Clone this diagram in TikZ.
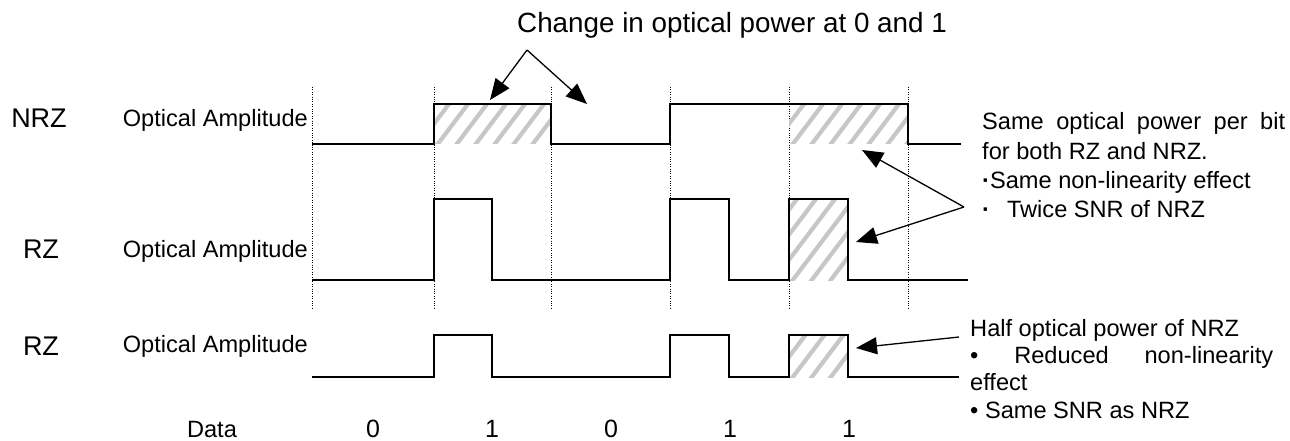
\documentclass[tikz,border=0pt]{standalone}
\usepackage{fontspec}
\setmainfont{Liberation Sans}
\usetikzlibrary{arrows.meta}
\tikzset{
  wave/.style={line width=1.7pt, line join=miter},
  gridline/.style={line width=0.9pt, dash pattern=on 1pt off 1.4pt},
  hatchline/.style={line width=4.2pt, draw=black!22},
  txt/.style={inner sep=0pt, font=\fontsize{23.6}{28}\selectfont},
  biglabel/.style={inner sep=0pt, font=\fontsize{27}{32}\selectfont},
  titletxt/.style={inner sep=0pt, font=\fontsize{27.8}{32}\selectfont},
  digit/.style={inner sep=0pt, font=\fontsize{25}{30}\selectfont},
  callout/.style={line width=1.3pt, -{Triangle[length=21pt,width=17pt]}},
}
\newcommand{\hatchrect}[4]{%
  \begin{scope}
    \clip (#1,#2) rectangle (#3,#4);
    \foreach \k in {-7,...,8} {\draw[hatchline] ({#1+\k*19},{#4+5}) -- ++(68,-90);}
  \end{scope}}
\begin{document}
\begin{tikzpicture}[x=1pt,y=-1pt]
\useasboundingbox (0,0) rectangle (1290,441);
% dotted bit boundaries
\foreach \x in {312,434,551,670,789,908} \draw[gridline] (\x,87) -- (\x,308);
% hatched areas
\hatchrect{434}{104}{551}{144}
\hatchrect{789}{104}{908}{144}
\hatchrect{789}{199}{848}{280}
\hatchrect{789}{335}{848}{377}
% waveforms
\draw[wave] (312,144) -- (434,144) -- (434,104) -- (551,104) -- (551,144) -- (670,144) -- (670,104) -- (908,104) -- (908,144) -- (961,144);
\draw[wave] (312,280) -- (434,280) -- (434,199) -- (492,199) -- (492,280) -- (670,280) -- (670,199) -- (729,199) -- (729,280) -- (789,280) -- (789,199) -- (848,199) -- (848,280) -- (968,280);
\draw[wave] (312,377) -- (434,377) -- (434,335) -- (492,335) -- (492,377) -- (670,377) -- (670,335) -- (729,335) -- (729,377) -- (789,377) -- (789,335) -- (848,335) -- (848,377) -- (959,377);
% row labels
\node[biglabel, anchor=base] (nrz) at (39,128) {NRZ};
\node[biglabel, anchor=base] (rza) at (41,258) {RZ};
\node[biglabel, anchor=base] (rzb) at (41,355) {RZ};
\node[txt, anchor=base east] (oa1) at (308,127) {Optical Amplitude};
\node[txt, anchor=base east] (oa2) at (308,257) {Optical Amplitude};
\node[txt, anchor=base east] (oa3) at (308,352) {Optical Amplitude};
% data
\node[txt, anchor=base] (data) at (212,437) {Data};
\node[digit, anchor=base] (d1) at (373,437) {0};
\node[digit, anchor=base] (d2) at (492,437) {1};
\node[digit, anchor=base] (d3) at (611,437) {0};
\node[digit, anchor=base] (d4) at (730,437) {1};
\node[digit, anchor=base] (d5) at (849,437) {1};
% title and arrows
\node[titletxt, anchor=base west] (title) at (517,33) {Change in optical power at 0 and 1};
\coordinate (apex) at (527,50);
\coordinate (tipA) at (490,100);
\coordinate (tipB) at (587,104);
\draw[callout] (apex) -- (tipA);
\draw[callout] (apex) -- (tipB);
% right annotation 1
\node[txt, anchor=base west] (a1) at (982,130) {\hbox to 303pt{Same\hfill optical\hfill power\hfill per\hfill bit}};
\node[txt, anchor=base west] (a2) at (982,159) {for both RZ and NRZ.};
\node[txt, anchor=base west] (a3) at (982,188) {{\bfseries·}Same non-linearity effect};
\node[txt, anchor=base west] (a4) at (982,217) {{\bfseries·}\hspace{17pt}Twice SNR of NRZ};
\coordinate (tailA) at (964,207);
\coordinate (tipC) at (862,150);
\coordinate (tipD) at (856,242);
\draw[callout] (tailA) -- (tipC);
\draw[callout] (tailA) -- (tipD);
% right annotation 2
\node[txt, anchor=base west] (b1) at (970,336) {Half optical power of NRZ};
\node[txt, anchor=base west] (b2) at (970,363) {\hbox to 303pt{•\hfill Reduced\hfill non-linearity}};
\node[txt, anchor=base west] (b3) at (970,390) {effect};
\node[txt, anchor=base west] (b4) at (970,418) {• Same SNR as NRZ};
\coordinate (tailB) at (959,337);
\coordinate (tipE) at (856,348);
\draw[callout] (tailB) -- (tipE);
\end{tikzpicture}
\end{document}
